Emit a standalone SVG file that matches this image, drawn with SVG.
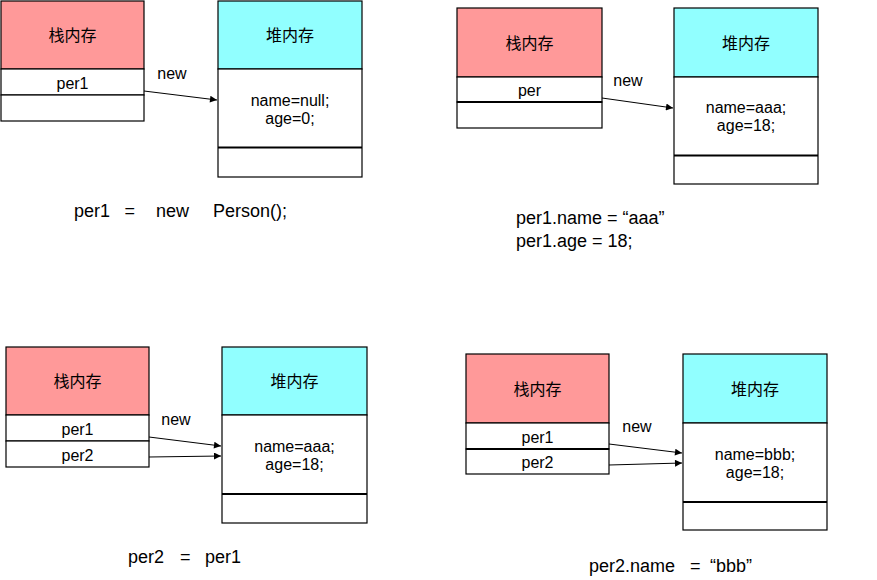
<svg xmlns="http://www.w3.org/2000/svg" width="877" height="580" viewBox="0 0 877 580">
<style>
.bg{fill:#ffffff}
.stk{fill:#FF9999;stroke:#000;stroke-width:1.2}
.hp{fill:#91FFFF;stroke:#000;stroke-width:1.2}
.cell{fill:#fff;stroke:#000;stroke-width:1.2}
.thick{stroke:#000;stroke-width:2;fill:none}
.t{font-family:"Liberation Sans","Noto Sans CJK SC",sans-serif;font-size:16px;fill:#000;text-anchor:middle}
.cjk{font-family:"Noto Sans CJK SC","Liberation Sans",sans-serif;font-size:16px;fill:#000;text-anchor:middle}
.code{font-family:"Liberation Sans","Noto Sans CJK SC",sans-serif;font-size:18px;fill:#000}
.arr{stroke:#000;stroke-width:1;fill:none;marker-end:url(#ah)}
</style>
<defs>
<marker id="ah" viewBox="0 0 10 10" refX="10" refY="5" markerWidth="11" markerHeight="7" markerUnits="userSpaceOnUse" orient="auto">
<path d="M0,0 L10,5 L0,10 z" fill="#000"/>
</marker>
</defs>
<rect class="bg" x="0" y="0" width="877" height="580"/>

<!-- Panel 1 -->
<g id="stack1">
<rect class="stk" x="1" y="1" width="143" height="68"/>
<rect class="cell" x="1" y="69" width="143" height="26"/>
<rect class="cell" x="1" y="95" width="143" height="26"/>
<text class="cjk" x="72.5" y="41">栈内存</text>
<text class="t" x="72.5" y="89">per1</text>
</g>
<g id="heap1">
<rect class="hp" x="218" y="1" width="144" height="68"/>
<rect class="cell" x="218" y="69" width="144" height="108"/>
<line class="thick" x1="218" y1="147.5" x2="362" y2="147.5"/>
<text class="cjk" x="290" y="41">堆内存</text>
<text class="t" x="290" y="106">name=null;</text>
<text class="t" x="290" y="124">age=0;</text>
</g>
<text class="code" y="217"><tspan x="74">per1</tspan><tspan x="124.5">=</tspan><tspan x="156">new</tspan><tspan x="213">Person();</tspan></text>

<!-- Panel 2 -->
<g id="stack2">
<rect class="stk" x="457" y="8" width="145" height="69"/>
<rect class="cell" x="457" y="77" width="145" height="25"/>
<rect class="cell" x="457" y="102" width="145" height="26"/>
<line class="thick" x1="457" y1="102" x2="602" y2="102"/>
<text class="cjk" x="529.5" y="49">栈内存</text>
<text class="t" x="529.5" y="96">per</text>
</g>
<g id="heap2">
<rect class="hp" x="674" y="8" width="144" height="69"/>
<rect class="cell" x="674" y="77" width="144" height="107"/>
<line class="thick" x1="674" y1="155.5" x2="818" y2="155.5"/>
<text class="cjk" x="746" y="49">堆内存</text>
<text class="t" x="746" y="113">name=aaa;</text>
<text class="t" x="746" y="131">age=18;</text>
</g>
<text class="code" x="516" y="224">per1.name = “aaa”</text>
<text class="code" x="516" y="247">per1.age = 18;</text>

<!-- Panel 3 -->
<g id="stack3">
<rect class="stk" x="6" y="347" width="143" height="68"/>
<rect class="cell" x="6" y="415" width="143" height="26"/>
<rect class="cell" x="6" y="441" width="143" height="26"/>
<text class="cjk" x="77.5" y="387">栈内存</text>
<text class="t" x="77.5" y="435">per1</text>
<text class="t" x="77.5" y="461">per2</text>
</g>
<g id="heap3">
<rect class="hp" x="222" y="347" width="145" height="68"/>
<rect class="cell" x="222" y="415" width="145" height="108"/>
<line class="thick" x1="222" y1="494" x2="367" y2="494"/>
<text class="cjk" x="294.5" y="387">堆内存</text>
<text class="t" x="294.5" y="452">name=aaa;</text>
<text class="t" x="294.5" y="470">age=18;</text>
</g>
<text class="code" y="563"><tspan x="128">per2</tspan><tspan x="180">=</tspan><tspan x="205">per1</tspan></text>

<!-- Panel 4 -->
<g id="stack4">
<rect class="stk" x="466" y="354" width="143" height="69"/>
<rect class="cell" x="466" y="423" width="143" height="26"/>
<rect class="cell" x="466" y="449" width="143" height="25"/>
<line class="thick" x1="466" y1="449" x2="609" y2="449"/>
<text class="cjk" x="537.5" y="395">栈内存</text>
<text class="t" x="537.5" y="443">per1</text>
<text class="t" x="537.5" y="468">per2</text>
</g>
<g id="heap4">
<rect class="hp" x="683" y="354" width="144" height="69"/>
<rect class="cell" x="683" y="423" width="144" height="107"/>
<line class="thick" x1="683" y1="502" x2="827" y2="502"/>
<text class="cjk" x="755" y="395">堆内存</text>
<text class="t" x="755" y="460">name=bbb;</text>
<text class="t" x="755" y="478">age=18;</text>
</g>
<text class="code" y="572"><tspan x="589">per2.name</tspan><tspan x="690">=</tspan><tspan x="710">“bbb”</tspan></text>

<g id="connectors">
<line class="arr" x1="144" y1="91" x2="217" y2="100"/>
<text class="t" x="172" y="79">new</text>
<line class="arr" x1="602" y1="98" x2="673" y2="108"/>
<text class="t" x="628" y="86">new</text>
<line class="arr" x1="149" y1="437" x2="221" y2="446"/>
<line class="arr" x1="149" y1="457" x2="221" y2="456"/>
<text class="t" x="176" y="425">new</text>
<line class="arr" x1="609" y1="444" x2="682" y2="453"/>
<line class="arr" x1="609" y1="465" x2="682" y2="463"/>
<text class="t" x="637" y="432">new</text>
</g>
</svg>
